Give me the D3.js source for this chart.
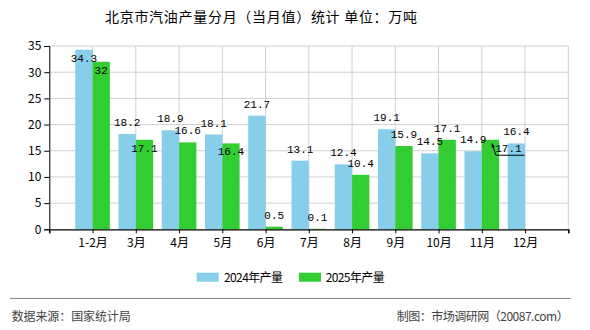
<!DOCTYPE html>
<html><head><meta charset="utf-8">
<script src="https://cdn.jsdelivr.net/npm/d3@7"></script>
<style>body{margin:0;background:#fff}svg{display:block}</style>
</head><body>
<script>
const categories = ["1-2月","3月","4月","5月","6月","7月","8月","9月","10月","11月","12月"];
const values2024 = [34.3,18.2,18.9,18.1,21.7,13.1,12.4,19.1,14.5,14.9,16.4];
const values2025 = [32,17.1,16.6,16.4,0.5,0.1,10.4,15.9,17.1,17.1,null];
const seriesNames = ["2024年产量","2025年产量"];
const yTicks = [0,5,10,15,20,25,30,35];
// label placement: "a" above bar, "i" inside top, "l" leader
const place2024 = ["i","a","a","a","a","a","a","a","a","a","a"];
const place2025 = ["i","i","a","i","a","a","a","a","a","l",null];

const W=590,H=330;
const svg=d3.select("body").append("svg").attr("width",W).attr("height",H);
const cjk="'Noto Sans CJK SC','Noto Sans',sans-serif";
const colors=["#87CEEB","#32CD32"];

const x=d3.scaleLinear().domain([0,categories.length+1]).range([49.3,568.3]);
const y=d3.scaleLinear().domain([0,35]).range([229.3,46]);
const step=x(1)-x(0), bw=step*0.4;

// title
svg.append("text").attr("x",105).attr("y",22).attr("font-family",cjk).attr("font-size",14)
  .attr("textLength",312).attr("fill","#000").text("北京市汽油产量分月（当月值）统计 单位：万吨");

// grid
const grid=svg.append("g").attr("stroke","#d0d0d0").attr("stroke-width",1);
yTicks.filter(t=>t>0).forEach(t=>grid.append("line").attr("x1",x(0)).attr("x2",x(12)).attr("y1",y(t)).attr("y2",y(t)));
d3.range(1,13).forEach(i=>grid.append("line").attr("x1",x(i)).attr("x2",x(i)).attr("y1",y(35)).attr("y2",y(0)));

// bars
const bars=svg.append("g");
categories.forEach((c,i)=>{
  const cx=x(i+1);
  if(values2024[i]!=null) bars.append("rect").attr("x",cx-bw).attr("width",bw).attr("y",y(values2024[i])).attr("height",y(0)-y(values2024[i])).attr("fill",colors[0]);
  if(values2025[i]!=null) bars.append("rect").attr("x",cx).attr("width",bw).attr("y",y(values2025[i])).attr("height",y(0)-y(values2025[i])).attr("fill",colors[1]);
});

// axes
const yAxis=d3.axisLeft(y).tickValues(yTicks).tickSize(5).tickPadding(3);
const gy=svg.append("g").attr("transform",`translate(${x(0)},0)`).call(yAxis);
gy.select(".domain").attr("stroke","#000");
gy.selectAll("text").attr("font-family",cjk).attr("font-size",12).attr("fill","#000");
const xAxis=d3.axisBottom(x).tickValues(d3.range(0,13)).tickSize(4).tickFormat(d=>(d>=1&&d<=11)?categories[d-1]:"");
const gx=svg.append("g").attr("transform",`translate(0,${y(0)})`).call(xAxis);
gx.select(".domain").attr("stroke","#000").attr("stroke-width",1.3);
gx.selectAll("text").attr("font-family",cjk).attr("font-size",12).attr("fill","#000").attr("dy","0.9em");

// labels
const lab=svg.append("g").attr("font-family","'Liberation Mono','DejaVu Sans Mono',monospace").attr("font-size",11).attr("fill","#000").attr("text-anchor","middle");
function addLabel(v,cx,p){
  if(v==null) return;
  const top=y(v);
  if(p==="a") lab.append("text").attr("x",cx).attr("y",top-8).text(v);
  else if(p==="i") lab.append("text").attr("x",cx).attr("y",top+12).text(v);
  else if(p==="l"){
    lab.append("text").attr("x",cx+18).attr("y",top+12).text(v);
    svg.append("path").attr("d",`M${cx+2},${top+5}L${cx+5.5},${top+15.5}L${cx+34},${top+15.5}`).attr("fill","none").attr("stroke","#000").attr("stroke-width",1);
    svg.append("path").attr("d",`M${cx+1},${top+3}L${cx+4.5},${top+7}L${cx+1.5},${top+8}Z`).attr("fill","#000");
  }
}
categories.forEach((c,i)=>{
  addLabel(values2024[i],x(i+1)-bw/2,place2024[i]);
  addLabel(values2025[i],x(i+1)+bw/2,place2025[i]);
});

// legend
const lg=svg.append("g").attr("font-family",cjk).attr("font-size",12);
[[196.7,224],[299,325.7]].forEach((p,k)=>{
  lg.append("rect").attr("x",p[0]).attr("y",272.7).attr("width",22).attr("height",9).attr("fill",colors[k]);
  lg.append("text").attr("x",p[1]).attr("y",281.5).attr("textLength",59).attr("fill","#000").text(seriesNames[k]);
});

// footer
svg.append("line").attr("x1",10).attr("x2",571).attr("y1",298.5).attr("y2",298.5).attr("stroke","#888").attr("stroke-width",1);
svg.append("text").attr("x",11.7).attr("y",320.5).attr("font-family",cjk).attr("font-size",12).attr("fill","#444").attr("textLength",119).text("数据来源：国家统计局");
svg.append("text").attr("x",396.7).attr("y",320.5).attr("font-family",cjk).attr("font-size",12).attr("fill","#444").attr("textLength",172).text("制图：市场调研网（20087.com）");
</script>
</body></html>
